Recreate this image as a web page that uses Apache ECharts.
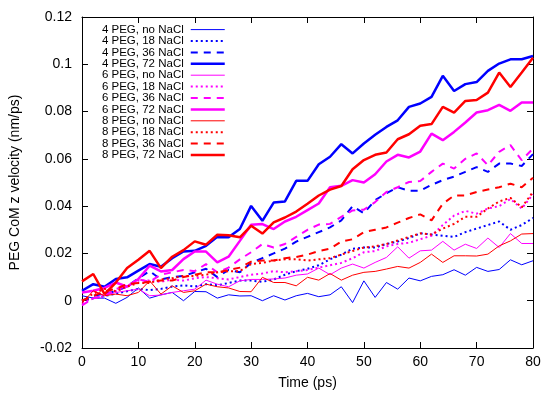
<!DOCTYPE html>
<html>
<head>
<meta charset="utf-8">
<script src="https://cdn.jsdelivr.net/npm/echarts@6/dist/echarts.min.js"></script>
<style>
html,body{margin:0;padding:0;background:#fff;}
#chart{width:550px;height:398px;}
</style>
</head>
<body>
<div id="chart"></div>
<script>
// Time points (ps)
const time = [0,2,4,6,8,10,12,14,16,18,20,22,24,26,28,30,32,34,36,38,40,42,44,46,48,50,52,54,56,58,60,62,64,66,68,70,72,74,76,78,80];

const xTicks = [0,10,20,30,40,50,60,70,80];
const yTicks = [-0.02,0,0.02,0.04,0.06,0.08,0.1,0.12];

const seriesNames = [
  '4 PEG, no NaCl','4 PEG, 18 NaCl','4 PEG, 36 NaCl','4 PEG, 72 NaCl',
  '6 PEG, no NaCl','6 PEG, 18 NaCl','6 PEG, 36 NaCl','6 PEG, 72 NaCl',
  '8 PEG, no NaCl','8 PEG, 18 NaCl','8 PEG, 36 NaCl','8 PEG, 72 NaCl'
];

const peg4_no = [0.0021,0.0011,0.0011,-0.0011,0.0014,0.0054,0.0011,0.0025,0.0035,0.0000,0.0039,0.0038,0.0011,0.0025,0.0020,0.0021,0.0000,0.0021,0.0003,0.0021,0.0031,0.0017,0.0025,0.0059,-0.0008,0.0084,0.0014,0.0077,0.0049,0.0096,0.0084,0.0103,0.0110,0.0131,0.0108,0.0141,0.0124,0.0132,0.0173,0.0152,0.0169];
const peg4_18 = [0.000,0.001,0.002,0.003,0.004,0.005,0.0045,0.005,0.006,0.0065,0.006,0.007,0.0065,0.0075,0.0085,0.0085,0.008,0.009,0.011,0.0125,0.0135,0.015,0.0175,0.0195,0.022,0.0225,0.0225,0.024,0.025,0.0265,0.0285,0.028,0.0275,0.027,0.029,0.0305,0.032,0.0335,0.030,0.032,0.035];
const peg4_36 = [0.000,0.002,0.003,0.004,0.006,0.0095,0.0125,0.009,0.010,0.0105,0.012,0.0135,0.010,0.013,0.012,0.016,0.018,0.020,0.022,0.025,0.027,0.029,0.031,0.034,0.040,0.037,0.0425,0.0455,0.048,0.0465,0.0465,0.049,0.051,0.0525,0.0545,0.0565,0.0545,0.058,0.058,0.057,0.062];
const peg4_72 = [0.0042,0.0070,0.0059,0.0092,0.0099,0.0127,0.0155,0.0144,0.0180,0.0208,0.0211,0.0232,0.0270,0.0268,0.0303,0.0401,0.0338,0.0415,0.0420,0.0507,0.0507,0.0577,0.0609,0.0662,0.0623,0.0665,0.0702,0.0735,0.0763,0.0820,0.0834,0.0862,0.0951,0.0887,0.0916,0.0925,0.0972,0.1003,0.1021,0.1021,0.1035];

const peg6_no = [0.0035,0.0042,0.0021,0.0035,0.0042,0.0049,0.0021,0.0024,0.0035,0.0042,0.0049,0.0087,0.0070,0.0059,0.0084,0.0090,0.0090,0.0092,0.0096,0.0108,0.0113,0.0138,0.0110,0.0138,0.0155,0.0138,0.0162,0.0183,0.0228,0.0180,0.0211,0.0214,0.0251,0.0214,0.0239,0.0221,0.0265,0.0225,0.0284,0.0242,0.0242];
const peg6_18 = [-0.001,0.001,0.002,0.004,0.006,0.0085,0.0085,0.008,0.009,0.0085,0.0095,0.010,0.0095,0.009,0.010,0.011,0.0115,0.0125,0.012,0.0125,0.013,0.014,0.015,0.016,0.018,0.0205,0.021,0.023,0.024,0.0245,0.026,0.0275,0.032,0.036,0.038,0.0368,0.039,0.040,0.043,0.039,0.045];
const peg6_36 = [-0.002,0.001,0.002,0.005,0.006,0.009,0.008,0.011,0.012,0.013,0.0125,0.0155,0.012,0.014,0.0175,0.0205,0.024,0.0225,0.024,0.027,0.030,0.0322,0.0325,0.0355,0.0382,0.0385,0.0417,0.046,0.048,0.0502,0.0506,0.0545,0.058,0.0559,0.060,0.0623,0.0573,0.063,0.0658,0.0594,0.0644];
const peg6_72 = [0.0035,0.0042,0.0054,0.0077,0.0059,0.0092,0.0148,0.0124,0.0130,0.0176,0.0208,0.0208,0.0162,0.0186,0.0253,0.0321,0.0324,0.0303,0.0335,0.0355,0.0383,0.0411,0.0480,0.0486,0.0510,0.0500,0.0535,0.0589,0.0617,0.0606,0.0631,0.0707,0.0679,0.0714,0.0754,0.0796,0.0806,0.0828,0.0803,0.0838,0.0838];

const peg8_no = [-0.0010,0.0042,0.0021,0.0028,0.0021,0.0035,0.0084,0.0028,0.0063,0.0035,0.0042,0.0070,0.0059,0.0054,0.0039,0.0038,0.0099,0.0077,0.0077,0.0063,0.0099,0.0087,0.0115,0.0087,0.0108,0.0120,0.0124,0.0134,0.0145,0.0138,0.0162,0.0197,0.0162,0.0190,0.0190,0.0189,0.0197,0.0232,0.0253,0.0282,0.0284];
const peg8_18 = [0.000,0.003,0.005,0.004,0.006,0.0075,0.0075,0.009,0.0095,0.0105,0.0105,0.011,0.012,0.0125,0.0125,0.0155,0.016,0.017,0.0175,0.0175,0.017,0.0175,0.018,0.0195,0.021,0.0225,0.023,0.024,0.0255,0.027,0.0285,0.028,0.0305,0.0325,0.0355,0.0355,0.039,0.042,0.0435,0.0395,0.046];
const peg8_36 = [0.000,0.002,0.004,0.005,0.007,0.0075,0.008,0.0085,0.0085,0.010,0.011,0.012,0.012,0.013,0.014,0.0165,0.017,0.017,0.018,0.0185,0.0195,0.021,0.022,0.025,0.026,0.029,0.030,0.031,0.033,0.035,0.0365,0.034,0.041,0.0445,0.0445,0.046,0.047,0.048,0.0495,0.048,0.052];
const peg8_72 = [0.0082,0.0113,0.0028,0.0077,0.0138,0.0173,0.0211,0.0138,0.0186,0.0214,0.0251,0.0237,0.0279,0.0277,0.0268,0.0317,0.0284,0.0331,0.0352,0.0377,0.0410,0.0445,0.0470,0.0485,0.0556,0.0595,0.0617,0.0627,0.0683,0.0704,0.0740,0.0747,0.0820,0.0796,0.0845,0.0849,0.0880,0.0965,0.0904,0.0965,0.1028];

const allValues = [peg4_no,peg4_18,peg4_36,peg4_72,peg6_no,peg6_18,peg6_36,peg6_72,peg8_no,peg8_18,peg8_36,peg8_72];

const colors = ['#0000ff','#ff00ff','#ff0000'];
const styles = [
  {width:1, type:'solid'},
  {width:2, type:[2,3]},
  {width:2, type:[7,6]},
  {width:2.5, type:'solid'}
];

const FONT = '"Liberation Sans", Arial, Helvetica, sans-serif';

const series = allValues.map((vals, i) => {
  const c = colors[Math.floor(i/4)];
  const st = styles[i%4];
  return {
    name: seriesNames[i],
    type: 'line',
    xAxisIndex: 0,
    yAxisIndex: 0,
    symbol: 'none',
    showSymbol: false,
    color: c,
    lineStyle: {color: c, width: st.width, type: st.type, cap: 'butt'},
    data: time.map((t, k) => [t, vals[k]]),
    z: 2
  };
});

const legendData = seriesNames.map((n, i) => {
  const st = styles[i%4];
  return {name: n, lineStyle: {width: st.width, type: st.type, color: colors[Math.floor(i/4)]}};
});

const fmtY = v => String(+v.toFixed(2));

const chart = echarts.init(document.getElementById('chart'), null, {renderer:'canvas'});
chart.setOption({
  animation: false,
  backgroundColor: '#fff',
  textStyle: {fontFamily: FONT},
  grid: {left: 81, right: 17, top: 17, bottom: 50, containLabel: false},
  legend: {
    orient: 'vertical',
    align: 'right',
    right: 324,
    top: 23.6,
    padding: 0,
    itemWidth: 34,
    itemHeight: 8,
    itemGap: -0.6,
    selectedMode: false,
    itemStyle: {opacity: 0, borderWidth: 0},
    textStyle: {fontSize: 11.5, color: '#000', fontFamily: FONT, lineHeight: 11.4, padding: [0,2,0,0]},
    data: legendData
  },
  xAxis: [{
    type: 'value', min: xTicks[0], max: xTicks[xTicks.length-1], interval: 10,
    position: 'bottom',
    name: 'Time (ps)', nameLocation: 'middle', nameGap: 28,
    nameTextStyle: {fontSize: 14, color: '#000', fontFamily: FONT},
    axisLine: {show: true, onZero: false, lineStyle: {color: '#000', width: 1}},
    axisTick: {show: true, inside: true, length: 6, lineStyle: {color: '#000'}},
    axisLabel: {fontSize: 14, color: '#000', margin: 7, fontFamily: FONT},
    splitLine: {show: false}
  },{
    type: 'value', min: xTicks[0], max: xTicks[xTicks.length-1], interval: 10,
    position: 'top',
    axisLine: {show: true, onZero: false, lineStyle: {color: '#000', width: 1}},
    axisTick: {show: true, inside: true, length: 6, lineStyle: {color: '#000'}},
    axisLabel: {show: false},
    splitLine: {show: false}
  }],
  yAxis: [{
    type: 'value', min: yTicks[0], max: yTicks[yTicks.length-1], interval: 0.02,
    position: 'left',
    name: 'PEG CoM z velocity (nm/ps)', nameLocation: 'middle', nameGap: 60,
    nameTextStyle: {fontSize: 14, color: '#000', fontFamily: FONT},
    axisLine: {show: true, onZero: false, lineStyle: {color: '#000', width: 1}},
    axisTick: {show: true, inside: true, length: 6, lineStyle: {color: '#000'}},
    axisLabel: {fontSize: 14, color: '#000', margin: 10, formatter: fmtY, fontFamily: FONT},
    splitLine: {show: false}
  },{
    type: 'value', min: yTicks[0], max: yTicks[yTicks.length-1], interval: 0.02,
    position: 'right',
    axisLine: {show: true, onZero: false, lineStyle: {color: '#000', width: 1}},
    axisTick: {show: true, inside: true, length: 6, lineStyle: {color: '#000'}},
    axisLabel: {show: false},
    splitLine: {show: false}
  }],
  series: series
});
</script>
</body>
</html>
